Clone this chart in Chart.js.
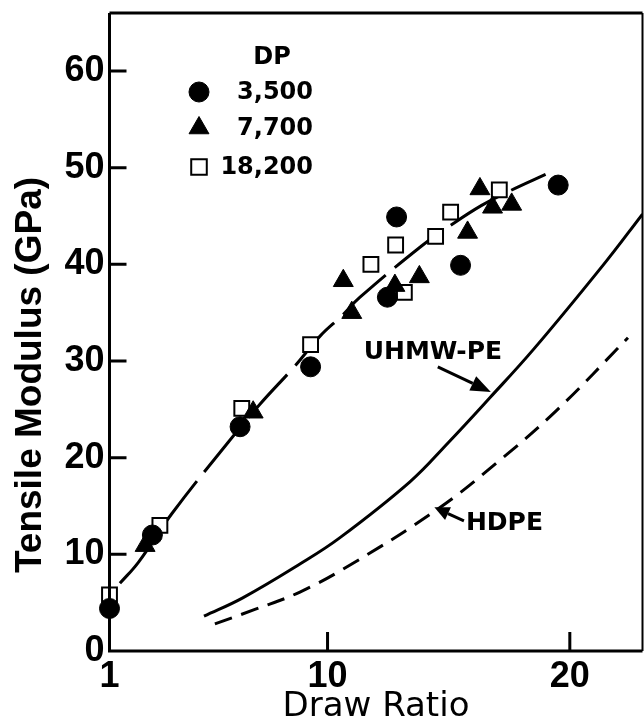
<!DOCTYPE html>
<html><head><meta charset="utf-8">
<script src="https://cdn.jsdelivr.net/npm/chart.js@4.4.1/dist/chart.umd.min.js"></script>
<style>html,body{margin:0;padding:0;background:#fff;}#wrap{width:644px;height:722px;}</style>
</head><body><div id="wrap"><canvas id="c" width="644" height="722"></canvas></div>
<script>
// ---- data ----
const xTicks = [1, 10, 20];
const yTicks = [0, 10, 20, 30, 40, 50, 60];
const legendTitle = 'DP';
const seriesLabels = ['3,500', '7,700', '18,200'];
const dp3500X = [1.0, 2.77, 6.39, 9.3, 12.47, 12.85, 15.49, 19.52];
const dp3500Y = [4.4, 12.0, 23.2, 29.4, 36.6, 44.9, 39.9, 48.2];
const dp7700X = [2.47, 6.93, 10.65, 11.0, 12.78, 13.79, 15.78, 16.29, 16.81, 17.6];
const dp7700Y = [10.9, 24.7, 38.3, 35.0, 37.8, 38.7, 43.3, 47.8, 45.9, 46.2];
const dp18200X = [1.0, 3.08, 6.46, 9.3, 11.79, 12.81, 13.17, 14.46, 15.08, 17.09];
const dp18200Y = [5.8, 13.0, 25.1, 31.7, 40.0, 42.0, 37.1, 42.9, 45.4, 47.7];
const fitX = [1.43, 2.2, 3.57, 5.9, 7.2, 8.66, 9.7, 10.6, 11.34, 13.88, 15.0, 16.36, 17.53, 19.0];
const fitY = [7.0, 9.2, 14.2, 21.6, 25.5, 29.5, 32.6, 34.7, 36.6, 41.9, 43.9, 46.1, 47.6, 49.3];
const uhmwX = [4.9, 6.5, 8.86, 10.5, 13.4, 15.0, 16.7, 18.5, 21.4, 23.0];
const uhmwY = [3.6, 5.5, 9.0, 11.7, 17.5, 21.6, 26.2, 31.2, 40.0, 45.2];
const hdpeX = [5.35, 7.0, 8.86, 11.0, 14.5, 17.0, 19.5, 22.4];
const hdpeY = [2.8, 4.3, 6.1, 9.0, 14.6, 19.5, 25.0, 32.4];
const curveLabels = ['UHMW-PE', 'HDPE'];

const pts = (xs, ys) => xs.map((x, i) => ({x: x, y: ys[i]}));
const BLK = '#000';

function drawMarker(ctx, style, r, x, y, fill, bw) {
  ctx.save();
  ctx.fillStyle = fill; ctx.strokeStyle = BLK; ctx.lineWidth = bw;
  ctx.beginPath();
  if (style === 'circle') { ctx.arc(x, y, r, 0, Math.PI * 2); }
  else if (style === 'triangle') {
    for (let k = 0; k < 3; k++) {
      const a = k * 2 * Math.PI / 3;
      const px = x + Math.sin(a) * r, py = y - Math.cos(a) * r;
      if (k === 0) ctx.moveTo(px, py); else ctx.lineTo(px, py);
    }
    ctx.closePath();
  } else { const s = r * Math.SQRT1_2; ctx.rect(x - s, y - s, 2 * s, 2 * s); }
  ctx.fill(); ctx.stroke();
  ctx.restore();
}

function arrow(ctx, x0, y0, x1, y1, headLen, headW) {
  const ang = Math.atan2(y1 - y0, x1 - x0);
  const bx = x1 - Math.cos(ang) * headLen, by = y1 - Math.sin(ang) * headLen;
  ctx.beginPath(); ctx.moveTo(x0, y0); ctx.lineTo(bx, by); ctx.stroke();
  ctx.beginPath();
  ctx.moveTo(x1, y1);
  ctx.lineTo(bx + Math.sin(ang) * headW, by - Math.cos(ang) * headW);
  ctx.lineTo(bx - Math.sin(ang) * headW, by + Math.cos(ang) * headW);
  ctx.closePath(); ctx.fill();
}

const decor = {
  id: 'decor',
  afterDatasetsDraw(chart) {
    const ctx = chart.ctx, ca = chart.chartArea;
    const xs = chart.scales.x, ys = chart.scales.y;
    ctx.save();
    ctx.strokeStyle = BLK; ctx.fillStyle = BLK; ctx.lineCap = 'butt';
    // frame
    ctx.lineWidth = 3;
    ctx.beginPath();
    ctx.moveTo(ca.left, ca.top); ctx.lineTo(ca.left, ca.bottom); ctx.lineTo(ca.right, ca.bottom);
    ctx.moveTo(ca.left, ca.top); ctx.lineTo(ca.right, ca.top);
    ctx.stroke();
    ctx.lineWidth = 2;
    ctx.beginPath(); ctx.moveTo(ca.right, ca.top); ctx.lineTo(ca.right, ca.bottom); ctx.stroke();
    // inward ticks
    ctx.lineWidth = 3;
    ctx.beginPath();
    yTicks.forEach(v => { if (v === 0) return; const p = ys.getPixelForValue(v); ctx.moveTo(ca.left, p); ctx.lineTo(ca.left + 17, p); });
    xTicks.forEach(v => { if (v === xs.min) return; const p = xs.getPixelForValue(v); ctx.moveTo(p, ca.bottom); ctx.lineTo(p, ca.bottom - 19); });
    ctx.stroke();

    // y axis title
    ctx.save();
    ctx.translate(31, 375); ctx.rotate(-Math.PI / 2);
    ctx.font = 'bold 37px "Liberation Sans"';
    ctx.textAlign = 'center'; ctx.textBaseline = 'middle';
    ctx.fillText('Tensile Modulus (GPa)', 0, 0);
    ctx.restore();

    // legend
    ctx.font = 'bold 24px "DejaVu Sans"';
    ctx.textBaseline = 'middle';
    ctx.textAlign = 'center';
    ctx.fillText(legendTitle, 272, 58);
    ctx.textAlign = 'right';
    const ly = [92, 128, 167];
    const ds = chart.data.datasets;
    for (let i = 0; i < 3; i++) {
      const d = ds[i];
      drawMarker(ctx, d.pointStyle, d.pointStyle === 'rect' ? 11 : d.pointRadius, 199, ly[i], d.backgroundColor, d.borderWidth);
      ctx.fillStyle = BLK;
      ctx.fillText(seriesLabels[i], 313, ly[i] + 1);
    }

    // curve annotations (positions in data units)
    ctx.lineWidth = 3;
    ctx.font = 'bold 25px "DejaVu Sans"';
    ctx.textAlign = 'center';
    ctx.fillText(curveLabels[0], xs.getPixelForValue(14.35), ys.getPixelForValue(30.9));
    arrow(ctx, xs.getPixelForValue(14.55), ys.getPixelForValue(29.4), xs.getPixelForValue(16.74), ys.getPixelForValue(26.8), 20, 8);
    ctx.textAlign = 'left';
    ctx.fillText(curveLabels[1], xs.getPixelForValue(15.71), ys.getPixelForValue(13.2));
    arrow(ctx, xs.getPixelForValue(15.63), ys.getPixelForValue(13.46), xs.getPixelForValue(14.41), ys.getPixelForValue(14.87), 15, 7);
    ctx.restore();
  }
};

const tickFont = {family: 'Liberation Sans', size: 36, weight: 'bold', lineHeight: 1};

new Chart(document.getElementById('c'), {
  type: 'scatter',
  data: {
    datasets: [
      {label: seriesLabels[0], data: pts(dp3500X, dp3500Y), pointStyle: 'circle', pointRadius: 10, backgroundColor: BLK, borderColor: BLK, borderWidth: 1, clip: false},
      {label: seriesLabels[1], data: pts(dp7700X, dp7700Y), pointStyle: 'triangle', pointRadius: 11.5, backgroundColor: BLK, borderColor: BLK, borderWidth: 1, clip: false},
      {label: seriesLabels[2], data: pts(dp18200X, dp18200Y), pointStyle: 'rect', pointRadius: 10.5, backgroundColor: '#fff', borderColor: BLK, borderWidth: 2, clip: false},
      {label: 'fit', type: 'line', data: pts(fitX, fitY), pointRadius: 0, borderColor: BLK, borderWidth: 3, borderDash: [58, 12], tension: 0.4, fill: false},
      {label: curveLabels[0], type: 'line', data: pts(uhmwX, uhmwY), pointRadius: 0, borderColor: BLK, borderWidth: 3, tension: 0.4, fill: false},
      {label: curveLabels[1], type: 'line', data: pts(hdpeX, hdpeY), pointRadius: 0, borderColor: BLK, borderWidth: 3, borderDash: [18, 10], tension: 0.4, fill: false}
    ]
  },
  options: {
    responsive: false, animation: false, devicePixelRatio: 1,
    layout: {autoPadding: false, padding: {top: 13, right: 1.5, left: 0, bottom: 0}},
    plugins: {legend: {display: false}, tooltip: {enabled: false}},
    scales: {
      x: {
        type: 'linear', min: 1, max: 23,
        afterBuildTicks: s => { s.ticks = xTicks.map(v => ({value: v})); },
        afterFit: s => { s.height = 71; s.paddingLeft = 0; s.paddingRight = 0; },
        grid: {display: false, drawTicks: false}, border: {display: false},
        ticks: {font: tickFont, color: BLK, padding: 8, maxRotation: 0, autoSkip: false},
        title: {display: true, text: 'Draw Ratio', color: BLK, font: {family: 'DejaVu Sans', size: 34, lineHeight: 1}, padding: {top: 0, bottom: -2}}
      },
      y: {
        type: 'linear', min: 0, max: 66,
        afterBuildTicks: s => { s.ticks = yTicks.map(v => ({value: v})); },
        afterFit: s => { s.width = 109.5; s.paddingTop = 0; s.paddingBottom = 0; },
        grid: {display: false, drawTicks: false}, border: {display: false},
        ticks: {font: tickFont, color: BLK, padding: 5, autoSkip: false}
      }
    }
  },
  plugins: [decor]
});
</script></body></html>
